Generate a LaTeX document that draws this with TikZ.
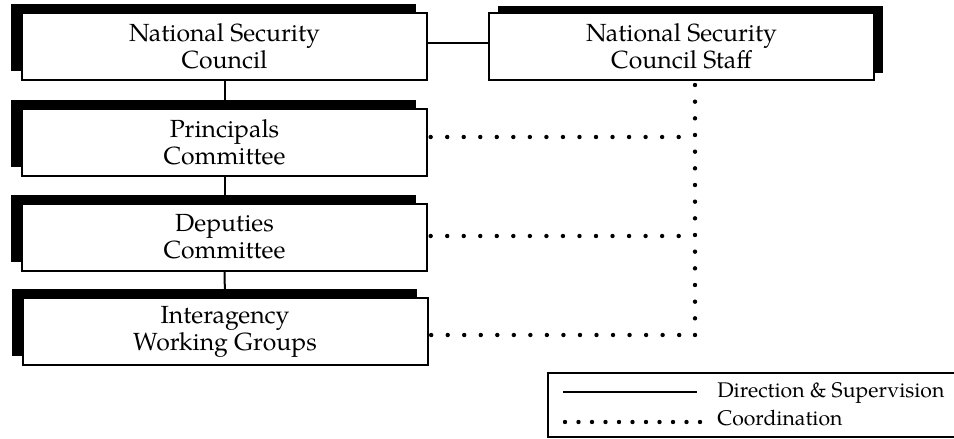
\documentclass[tikz,border=0pt]{standalone}
\usepackage{fontspec}
\setmainfont{TeX Gyre Pagella}
\usetikzlibrary{shadows}
\begin{document}
\begin{tikzpicture}[x=0.75pt,y=-0.75pt,
  orgbox/.style={draw, fill=white, line width=1.5pt, inner sep=0pt, align=center,
    minimum width=303.75pt, minimum height=50.25pt,
    font=\fontsize{18.6pt}{20.3pt}\selectfont},
  leftshadow/.style={general shadow={fill=black, draw=none, shadow xshift=-8.25pt, shadow yshift=6.5pt}},
  rightshadow/.style={general shadow={fill=black, draw=none, shadow xshift=7pt, shadow yshift=5.5pt}},
  solidline/.style={line width=1.5pt},
  dotline/.style={line width=3.3pt, line cap=round, dash pattern=on 0pt off 12.4pt},
  legendtext/.style={anchor=base west, inner sep=0pt, font=\fontsize{15.9pt}{18pt}\selectfont}]
\useasboundingbox (0,0) rectangle (954,439);
% boxes
\node[orgbox, leftshadow] (nsc) at (224.5,46.5) {National Security\\Council};
\node[orgbox, leftshadow] (pc) at (224.5,142) {Principals\\Committee};
\node[orgbox, leftshadow] (dc) at (224.5,237) {Deputies\\Committee};
\node[orgbox, leftshadow] (iwg) at (225,331.5) {Interagency\\Working Groups};
\node[orgbox, rightshadow, minimum width=288.75pt] (staff) at (681.5,46.5) {National Security\\Council Staff};
% direction lines
\draw[solidline] ([yshift=2.6pt]nsc.east) -- ([yshift=2.6pt]staff.west);
\draw[solidline] (nsc.south) -- (pc.north);
\draw[solidline] (pc.south) -- (dc.north);
\draw[solidline] (dc.south) -- (iwg.north);
% coordination lines
\coordinate (j1) at (695,137);
\coordinate (j2) at (695,236);
\coordinate (j3) at (695,335);
\draw[dotline, dash pattern=on 0pt off 12.5pt] (j3) -- (j3 |- staff.south);
\draw[dotline] ([xshift=2pt]pc.east |- j1) -- (j1);
\draw[dotline] ([xshift=2pt]dc.east |- j2) -- (j2);
\draw[dotline] ([xshift=2pt]iwg.east |- j3) -- (j3);
% legend
\draw[line width=1.5pt] (960,373) -- (548,373) -- (548,437) -- (960,437);
\coordinate (ls1) at (563,392);
\coordinate (ls2) at (697,392);
\coordinate (ld1) at (565,422);
\coordinate (ld2) at (700,422);
\draw[solidline] (ls1) -- (ls2);
\draw[dotline, dash pattern=on 0pt off 10.125pt] (ld1) -- (ld2);
\node[legendtext] (lt1) at (717,397) {Direction \& Supervision};
\node[legendtext] (lt2) at (717,425) {Coordination};
\end{tikzpicture}
\end{document}
